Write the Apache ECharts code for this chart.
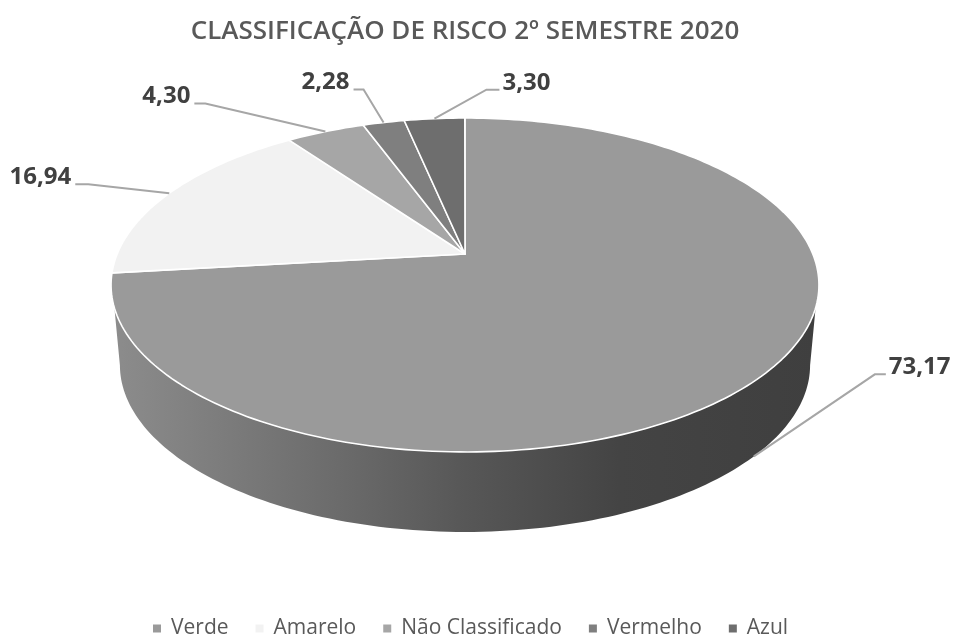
<!DOCTYPE html>
<html>
<head>
<meta charset="utf-8">
<style>
    html, body { margin: 0; padding: 0; background: #fff; }
    #main { width: 954px; height: 637px; }
</style>
</head>
<body>
<div id="main"></div>
<script src="https://cdn.jsdelivr.net/npm/echarts@6/dist/echarts.min.js"></script>
<script>
const titleText = 'CLASSIFICAÇÃO DE RISCO 2º SEMESTRE 2020';
const categories = ['Verde', 'Amarelo', 'Não Classificado', 'Vermelho', 'Azul'];
const values = [73.17, 16.94, 4.3, 2.28, 3.3];

const colors = ['#9a9a9a', '#f2f2f2', '#a6a6a6', '#7f7f7f', '#6e6e6e'];
// leader line, relative to the slice's rim point: elbow dx, elbow dy, tail length
const leaders = [[121, -82, 11], [-81, -9, -13], [-120, -28, -11], [-20, -33, -10], [52, -29, 13]];

// perspective disk: apex, half width, up/down scale, tilt; wall below it
const disk = { cx: 465, cy: 254, b: 347.8, a: 161.2, q: 0.1856 };
const wall = { drop: 80, shrink: 0.975 };

// clockwise from 12 o'clock, pct is 0-100
function rimPoint(pct, lower) {
    const t = (pct / 100) * Math.PI * 2;
    const u = Math.sin(t);
    const v = -Math.cos(t);
    const d = 1 - disk.q * v;
    const k = lower ? wall.shrink : 1;
    return [disk.cx + (disk.b * k * u) / d, disk.cy + (disk.a * v) / d + (lower ? wall.drop : 0)];
}

function rimArc(from, to, lower) {
    const pts = [];
    const steps = Math.max(4, Math.ceil(Math.abs(to - from) * 3));
    for (let i = 0; i <= steps; i++) {
        pts.push(rimPoint(from + ((to - from) * i) / steps, lower));
    }
    return pts;
}

function renderSlice(params, api) {
    const start = api.value(0);
    const end = api.value(1);
    const val = api.value(2);
    const children = [];

    if (params.seriesIndex === 0) {
        // side wall, only the big slice shows it
        const pts = rimArc(30.1, 69.9, false).concat(rimArc(72, 28, true));
        children.push({
            type: 'polygon',
            shape: { points: pts },
            style: {
                fill: new echarts.graphic.LinearGradient(0, 0, 1, 0, [
                    { offset: 0, color: '#8c8c8c' },
                    { offset: 0.33, color: '#6a6a6a' },
                    { offset: 0.5, color: '#575757' },
                    { offset: 0.72, color: '#444444' },
                    { offset: 1, color: '#3f3f3f' }
                ])
            }
        });
    }

    children.push({
        type: 'polygon',
        shape: { points: [[disk.cx, disk.cy]].concat(rimArc(start, end, false)) },
        style: { fill: colors[params.seriesIndex], stroke: '#ffffff', lineWidth: 1.6, lineJoin: 'round' }
    });

    const lead = leaders[params.seriesIndex];
    const p0 = rimPoint((start + end) / 2, params.seriesIndex === 0);
    const p1 = [p0[0] + lead[0], p0[1] + lead[1]];
    const p2 = [p1[0] + lead[2], p1[1]];
    children.push({
        type: 'polyline',
        shape: { points: [p0, p1, p2] },
        style: { fill: 'none', stroke: '#a6a6a6', lineWidth: 2 }
    });
    children.push({
        type: 'text',
        style: {
            text: val.toFixed(2).replace('.', ','),
            x: p2[0] + (lead[2] > 0 ? 3 : -4),
            y: p2[1] - 7,
            align: lead[2] > 0 ? 'left' : 'right',
            verticalAlign: 'middle',
            fill: '#404040',
            font: 'bold 24px "Open Sans"'
        }
    });
    return { type: 'group', children: children };
}

let running = 0;
const series = categories.map(function(name, i) {
    const start = running;
    running += values[i];
    return {
        name: name,
        type: 'custom',
        coordinateSystem: 'none',
        renderItem: renderSlice,
        itemStyle: { color: colors[i] },
        animation: false,
        silent: true,
        data: [[start, running, values[i]]]
    };
});

const chart = echarts.init(document.getElementById('main'));
chart.setOption({
    animation: false,
    title: {
        text: titleText,
        left: 460,
        top: 14,
        textAlign: 'center',
        textStyle: { color: '#595959', fontFamily: 'Open Sans', fontWeight: 600, fontSize: 26 }
    },
    legend: {
        data: categories,
        left: 148,
        top: 613,
        itemWidth: 8,
        itemHeight: 8,
        itemGap: 27,
        icon: 'rect',
        textStyle: { color: '#595959', fontFamily: 'Open Sans', fontSize: 21, padding: [0, 0, 0, 5] }
    },
    series: series
});
</script>
</body>
</html>
